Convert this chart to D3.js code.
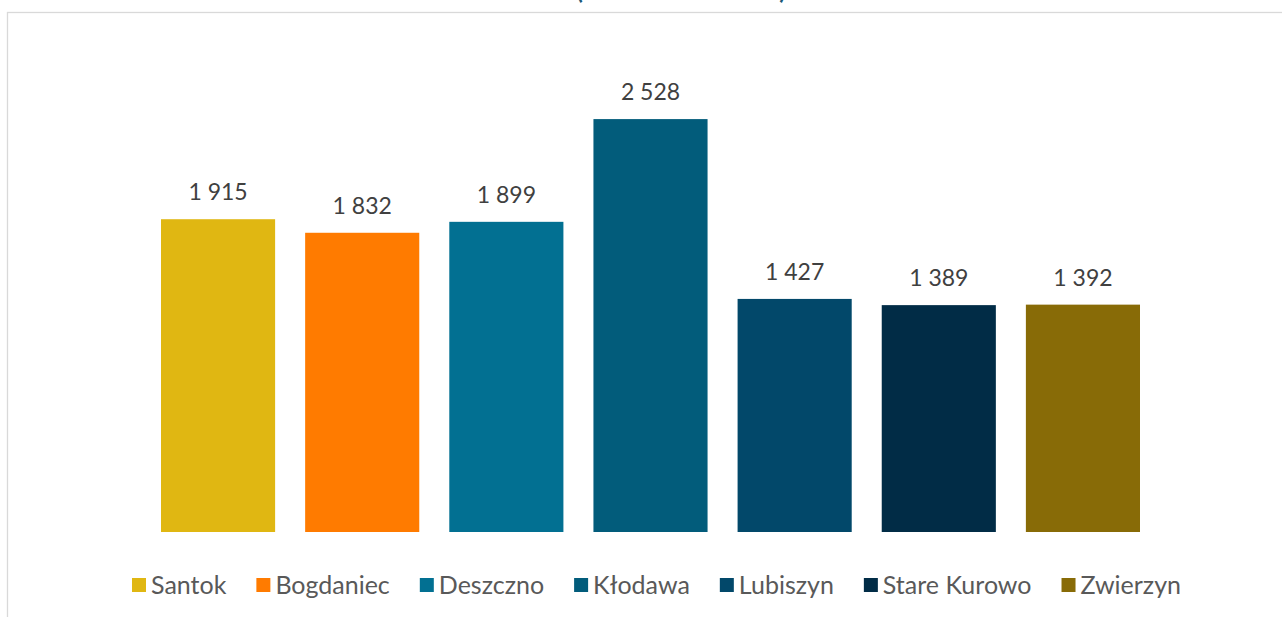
<!DOCTYPE html>
<html>
<head>
<meta charset="utf-8">
<script src="https://cdn.jsdelivr.net/npm/d3@7"></script>
<style>
  html, body { margin: 0; padding: 0; background: #ffffff; overflow: hidden; }
  svg { display: block; }
  text { font-family: Lato, "Open Sans", sans-serif; }
</style>
</head>
<body>
<svg id="chart" width="1282" height="617"></svg>
<script>
// ---- data ----
const categories = ["Santok", "Bogdaniec", "Deszczno", "Kłodawa", "Lubiszyn", "Stare Kurowo", "Zwierzyn"];
const values = [1915, 1832, 1899, 2528, 1427, 1389, 1392];
const colors = ["#E0B712", "#FF7B00", "#027092", "#025C7B", "#02486A", "#012C46", "#886B07"];
const titleText = "(w zł/1 mieszkańca)";
const yMax = 3000;

// ---- layout ----
const svg = d3.select("#chart");

// chart area border
svg.append("rect")
  .attr("x", 7.5).attr("y", 12.5)
  .attr("width", 1400).attr("height", 700)
  .attr("fill", "#ffffff")
  .attr("stroke", "#d9d9d9")
  .attr("stroke-width", 1.3);

// title (largely above the visible area, as in the reference)
svg.append("text")
  .attr("x", 681).attr("y", -1)
  .attr("text-anchor", "middle")
  .attr("font-size", 24)
  .attr("font-weight", 700)
  .attr("fill", "#1B5A78")
  .text(titleText);

const x = d3.scaleBand()
  .domain(categories)
  .range([161, 1140])
  .paddingInner(30 / 144)
  .paddingOuter(0);

const y = d3.scaleLinear()
  .domain([0, yMax])
  .range([532, 42]);

const g = svg.append("g");

g.selectAll("rect.bar")
  .data(categories)
  .join("rect")
  .attr("class", "bar")
  .attr("x", d => x(d))
  .attr("width", x.bandwidth())
  .attr("y", (d, i) => y(values[i]))
  .attr("height", (d, i) => y(0) - y(values[i]))
  .attr("fill", (d, i) => colors[i]);

const fmt = v => d3.format(",")(v).replace(/,/g, "\u00a0");

g.selectAll("text.lbl")
  .data(categories)
  .join("text")
  .attr("class", "lbl")
  .attr("x", d => x(d) + x.bandwidth() / 2)
  .attr("y", (d, i) => y(values[i]) - 19)
  .attr("text-anchor", "middle")
  .attr("font-size", 23)
  .attr("fill", "#404040")
  .text((d, i) => fmt(values[i]));

// ---- legend ----
const legend = svg.append("g");
const sq = 14, gapSq = 5, gapItem = 30, fs = 25;
const items = legend.selectAll("g.item")
  .data(categories)
  .join("g")
  .attr("class", "item");
items.append("rect")
  .attr("width", sq).attr("height", sq)
  .attr("y", -sq / 2)
  .attr("fill", (d, i) => colors[i]);
items.append("text")
  .attr("x", sq + gapSq)
  .attr("y", 0)
  .attr("dy", "0.35em")
  .attr("font-size", fs)
  .attr("fill", "#595959")
  .text(d => d);

let widths = [];
items.each(function() {
  widths.push(sq + gapSq + d3.select(this).select("text").node().getComputedTextLength());
});
const total = d3.sum(widths) + gapItem * (widths.length - 1);
let cx = 656.5 - total / 2;
items.attr("transform", (d, i) => {
  const tx = cx;
  cx += widths[i] + gapItem;
  return `translate(${tx},585)`;
});
</script>
</body>
</html>
